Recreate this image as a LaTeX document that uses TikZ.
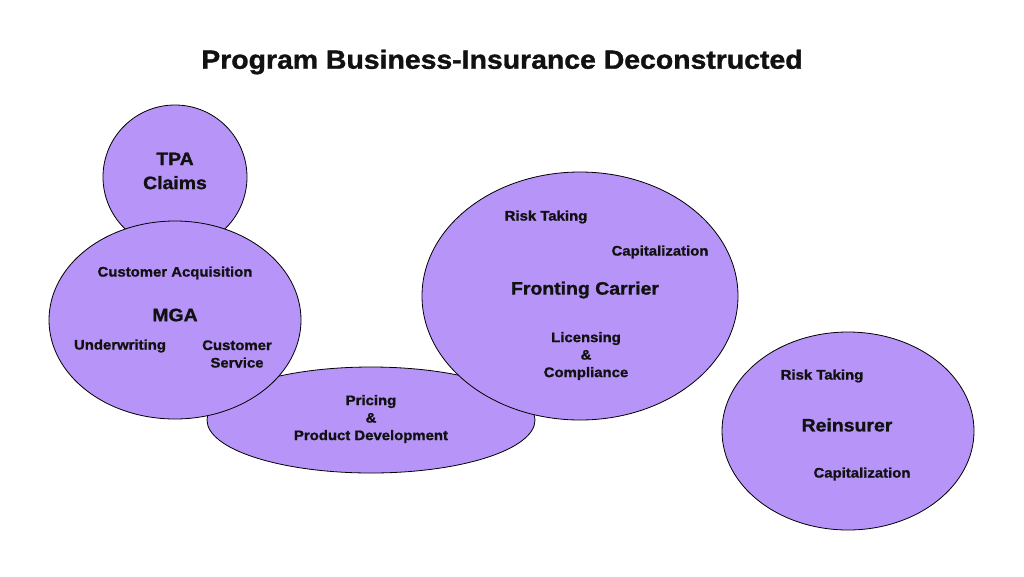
\documentclass[tikz,border=0pt]{standalone}
\usepackage{fontspec}
\setmainfont{Liberation Sans}[BoldFeatures={FakeStretch=1.08,FakeBold=1.2}]
\definecolor{blob}{HTML}{B794F8}
\definecolor{ink}{HTML}{111111}
\begin{document}
\begin{tikzpicture}[x=1pt,y=-1pt,
  blobstyle/.style={fill=blob,draw=black,line width=0.8pt},
  small/.style={text=ink,align=center,font=\bfseries\fontsize{13.8}{17.5}\selectfont},
  big/.style={text=ink,align=center,font=\bfseries\fontsize{18}{24}\selectfont}]
\useasboundingbox (0,0) rectangle (1024,576);
\fill[white] (0,0) rectangle (1024,576);
\node[text=ink,font=\bfseries\fontsize{26.3}{30}\selectfont] (title) at (502,62) {Program Business-Insurance Deconstructed};
% shapes
\draw[blobstyle] (175,177) circle[radius=72] coordinate (tpa);
\draw[blobstyle] (371,420) ellipse[x radius=164,y radius=53] coordinate (pricing);
\draw[blobstyle] (175,320) ellipse[x radius=126,y radius=99] coordinate (mga);
\draw[blobstyle] (580,296) ellipse[x radius=158,y radius=124] coordinate (fronting);
\draw[blobstyle] (848,431) ellipse[x radius=126,y radius=99] coordinate (reins);
% texts
\node[big] (tpat) at (175,171) {TPA\\Claims};
\node[small] (ca) at (175,273) {Customer Acquisition};
\node[big] (mgat) at (175,315) {MGA};
\node[small] (uw) at (120,346) {Underwriting};
\node[small] (cs) at (237,354) {Customer\\Service};
\node[small] (pp) at (371,419) {Pricing\\\&\\Product Development};
\node[small] (rt1) at (546,217) {Risk Taking};
\node[small] (cap1) at (660,252) {Capitalization};
\node[big] (fc) at (585,290) {Fronting Carrier};
\node[small] (lc) at (586,356) {Licensing\\\&\\Compliance};
\node[small] (rt2) at (822,376) {Risk Taking};
\node[big] (rein) at (847,425) {Reinsurer};
\node[small] (cap2) at (862,474) {Capitalization};
\end{tikzpicture}
\end{document}
